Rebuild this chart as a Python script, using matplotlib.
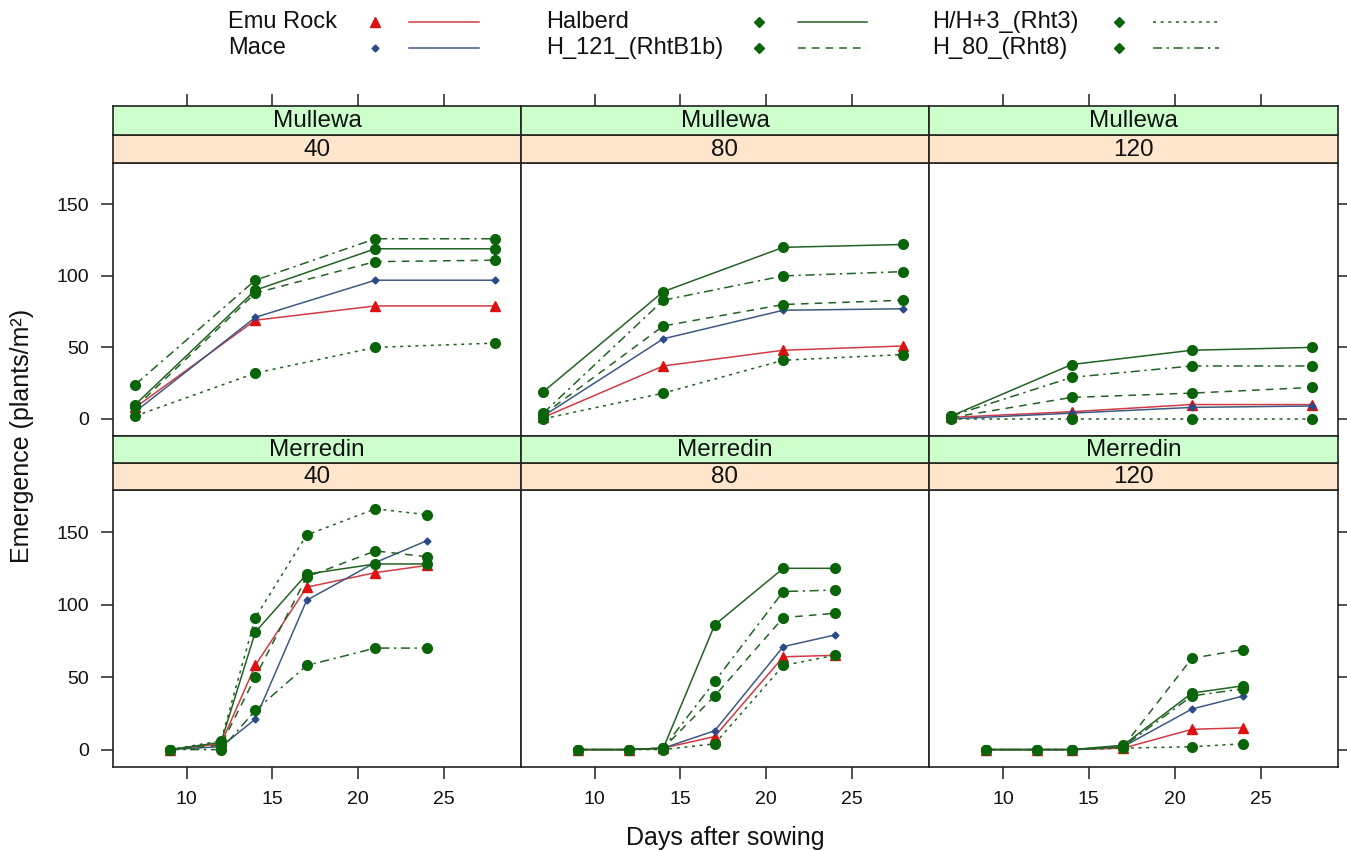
import matplotlib
matplotlib.use("Agg")
import matplotlib.pyplot as plt

plt.rcParams['font.family'] = ['Liberation Sans', 'DejaVu Sans']

# ---- data -------------------------------------------------------------
genotypes = ['Emu Rock', 'Mace', 'Halberd', 'H_121_(RhtB1b)', 'H/H+3_(Rht3)', 'H_80_(Rht8)']
densities = [40, 80, 120]
sites = ['Mullewa', 'Merredin']

days_mullewa = [7, 14, 21, 28]
days_merredin = [9, 12, 14, 17, 21, 24]

# one list per genotype, same order as `genotypes`
mullewa_40 = [[8, 69, 79, 79], [5, 71, 97, 97], [10, 90, 119, 119],
              [8, 88, 110, 111], [2, 32, 50, 53], [24, 97, 126, 126]]
mullewa_80 = [[1, 37, 48, 51], [2, 56, 76, 77], [19, 89, 120, 122],
              [3, 65, 80, 83], [0, 18, 41, 45], [4, 83, 100, 103]]
mullewa_120 = [[1, 5, 10, 10], [0, 4, 8, 9], [2, 38, 48, 50],
               [1, 15, 18, 22], [0, 0, 0, 0], [2, 29, 37, 37]]
merredin_40 = [[0, 4, 58, 112, 122, 127], [0, 2, 21, 103, 129, 144],
               [0, 5, 81, 121, 128, 128], [0, 3, 50, 119, 137, 133],
               [0, 6, 91, 148, 166, 162], [0, 0, 27, 58, 70, 70]]
merredin_80 = [[0, 0, 1, 9, 64, 65], [0, 0, 1, 13, 71, 79],
               [0, 0, 1, 86, 125, 125], [0, 0, 1, 37, 91, 94],
               [0, 0, 0, 4, 58, 65], [0, 0, 1, 47, 109, 110]]
merredin_120 = [[0, 0, 0, 1, 14, 15], [0, 0, 0, 2, 28, 37],
                [0, 0, 0, 3, 39, 44], [0, 0, 0, 2, 63, 69],
                [0, 0, 0, 1, 2, 4], [0, 0, 0, 2, 37, 42]]

panels = {('Mullewa', 40): mullewa_40, ('Mullewa', 80): mullewa_80,
          ('Mullewa', 120): mullewa_120, ('Merredin', 40): merredin_40,
          ('Merredin', 80): merredin_80, ('Merredin', 120): merredin_120}
site_days = {'Mullewa': days_mullewa, 'Merredin': days_merredin}

# ---- styles -----------------------------------------------------------
green_pt = '#0a640a'
green_ln = '#226222'
styles = [
    dict(marker='^', ms=7.5, mc='#dd1111', lc='#d23a45', ls='-'),
    dict(marker='D', ms=3.5, mc='#2c4a88', lc='#3e5a82', ls='-'),
    dict(marker='o', ms=7, mc=green_pt, lc=green_ln, ls='-'),
    dict(marker='o', ms=7, mc=green_pt, lc=green_ln, ls=(0, (5, 4))),
    dict(marker='o', ms=7, mc=green_pt, lc=green_ln, ls=(0, (2, 3))),
    dict(marker='o', ms=7, mc=green_pt, lc=green_ln, ls=(0, (6, 3, 1.5, 3))),
]

W, H = 1347, 850
fig = plt.figure(figsize=(W / 100, H / 100), dpi=100)


def rect(x0, y0, x1, y1):
    return [x0 / W, 1 - y1 / H, (x1 - x0) / W, (y1 - y0) / H]


col_x = [(113, 521), (521, 929), (929, 1338)]
row_y = {'Mullewa': (106, 135, 163, 436), 'Merredin': (436, 463, 490, 767)}
xlim = (5.7, 29.5)
ylim = (-12, 179)
edge = '#222222'
txt = '#111111'

for r, site in enumerate(sites):
    g0, g1, p0, p1 = row_y[site]
    for c, dens in enumerate(densities):
        x0, x1 = col_x[c]
        ax = fig.add_axes(rect(x0, p0, x1, p1))
        vals = panels[(site, dens)]
        days = site_days[site]
        for st, y in zip(styles, vals):
            ax.plot(days, y, color=st['lc'], ls=st['ls'], lw=1.1)
            ax.plot(days, y, ls='none', marker=st['marker'], ms=st['ms'],
                    mfc=st['mc'], mec=st['mc'])
        ax.set_xlim(xlim)
        ax.set_ylim(ylim)
        for s in ax.spines.values():
            s.set_color(edge)
            s.set_linewidth(1.2)
        ax.tick_params(direction='out', length=8.5, width=1.1, color=edge,
                       labelsize=14, labelcolor=txt, pad=9,
                       left=(c == 0), labelleft=(c == 0),
                       right=(c == 2), labelright=False,
                       bottom=(r == 1), labelbottom=(r == 1), top=False)
        ax.set_xticks([10, 15, 20, 25])
        ax.set_yticks([0, 50, 100, 150])

        # strips: peach (density) below, green (site) above
        for (sy0, sy1, color, label) in [(g1, p0, '#ffe5cc', str(dens)),
                                         (g0, g1, '#ccffcc', site)]:
            sax = fig.add_axes(rect(x0, sy0, x1, sy1))
            sax.set_facecolor(color)
            sax.set_xlim(xlim)
            sax.set_yticks([])
            sax.set_xticks([10, 15, 20, 25])
            top_tick = (r == 0 and color == '#ccffcc')
            sax.tick_params(direction='out', length=8.5, width=1.1, color=edge,
                            bottom=False, labelbottom=False,
                            top=top_tick, labeltop=False)
            for s in sax.spines.values():
                s.set_color(edge)
                s.set_linewidth(1.2)
            sax.text(0.5, 0.47, label, transform=sax.transAxes, ha='center',
                     va='center', fontsize=17.5, color=txt)

# ---- legend (top key) -------------------------------------------------
lax = fig.add_axes([0, 0, 1, 1], zorder=-1)
lax.set_xlim(0, W)
lax.set_ylim(H, 0)
lax.axis('off')
key_cols = [(228, 375, 409, 479), (546, 759, 798, 867), (932, 1119, 1153, 1219)]
key_rows = [22, 48]
for i, (name, st) in enumerate(zip(genotypes, styles)):
    tx, mx, lx0, lx1 = key_cols[i // 2]
    ky = key_rows[i % 2]
    lax.text(tx, ky, name, ha='left', va='center', fontsize=17, color=txt)
    is_pt = st['marker'] == 'o'
    lax.plot([mx], [ky], ls='none', marker='D' if is_pt else st['marker'],
             ms=5.5 if is_pt else st['ms'], mfc=st['mc'], mec=st['mc'])
    lax.plot([lx0, lx1], [ky, ky], color=st['lc'], ls=st['ls'], lw=1.1)

fig.text(725 / W, 1 - 838 / H, 'Days after sowing', ha='center', va='center',
         fontsize=18, color=txt)
fig.text(22 / W, 1 - 436 / H, 'Emergence (plants/m²)', ha='center', va='center',
         rotation=90, fontsize=18, color=txt)

fig.savefig('out.png', dpi=100)
